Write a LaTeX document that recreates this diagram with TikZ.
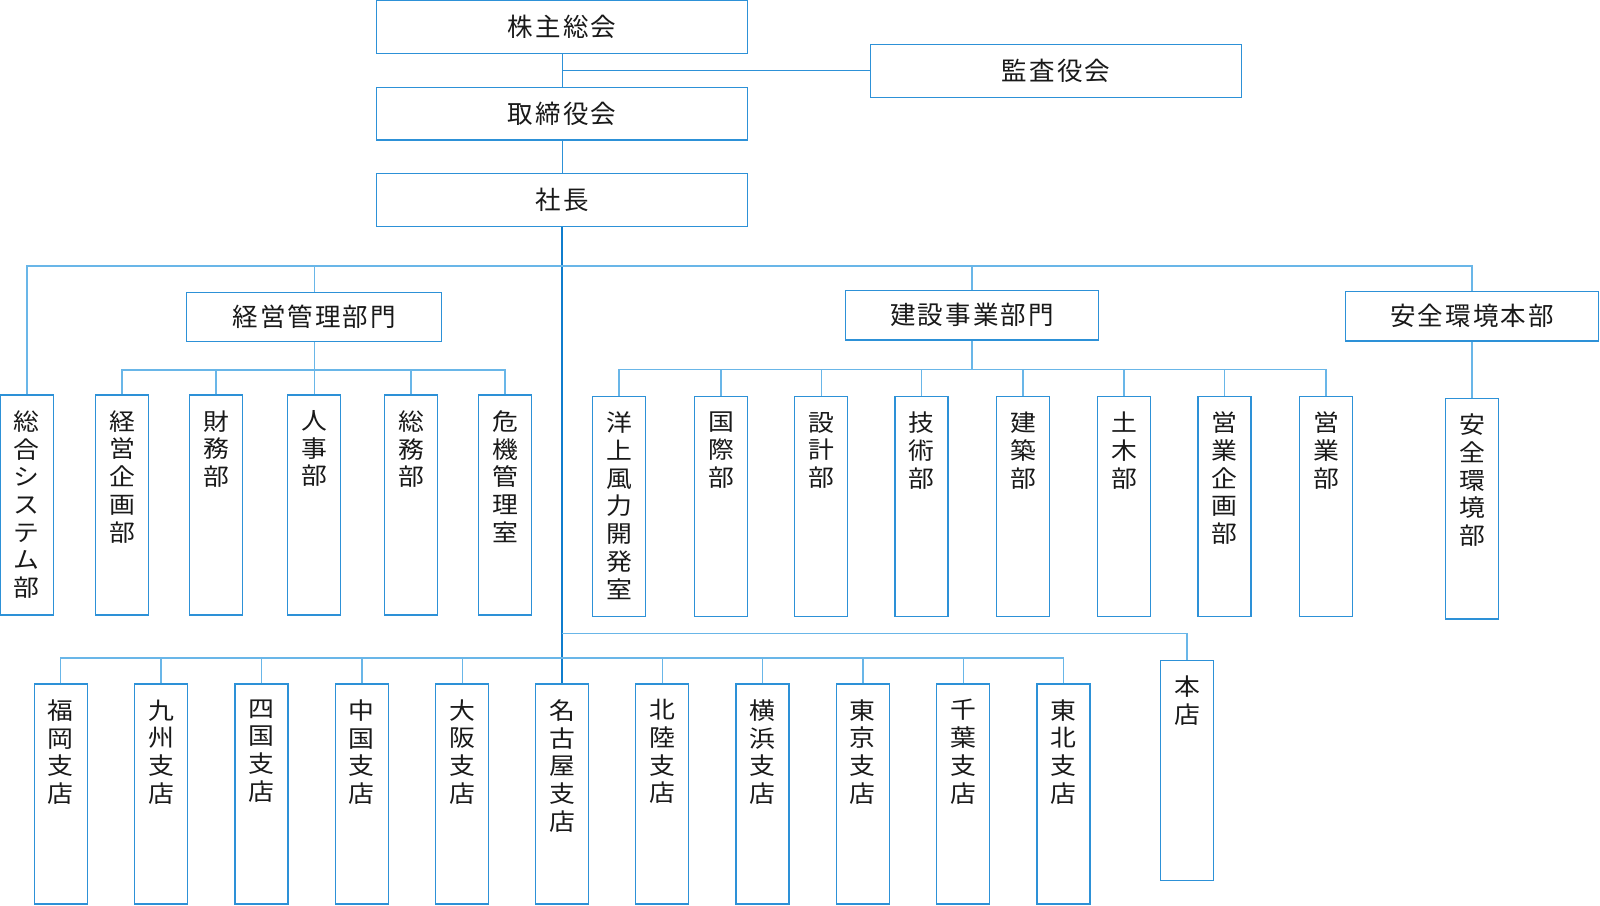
\documentclass[tikz,border=0pt]{standalone}
\usepackage{fontspec}
\setmainfont{Noto Sans CJK JP}
\newfontfamily\vfont[FakeStretch=1.1]{Noto Sans CJK JP}
\newfontfamily\hfont[LetterSpace=8]{Noto Sans CJK JP}
\definecolor{boxc}{RGB}{45,145,215}
\definecolor{linec}{RGB}{105,182,232}
\definecolor{trunkc}{RGB}{15,125,205}
\definecolor{txtc}{RGB}{25,25,25}
\tikzset{
  hbox/.style={draw=boxc, line width=1.3pt, inner sep=0pt, text=txtc,
    font=\hfont\fontsize{25.5}{30}\selectfont},
  sbox/.style={draw=boxc, line width=1.3pt, inner sep=0pt, minimum width=53pt},
  vtx/.style={anchor=north, inner sep=0pt, align=center, text=txtc,
    font=\vfont\fontsize{23.5}{27.7}\selectfont},
  ln/.style={draw=linec, line width=1.4pt},
  trunk/.style={draw=trunkc, line width=1.3pt}
}
\newcommand\vb[4]{%
  \node[sbox, minimum height=#3pt] (#1) at (#2) {};
  \node[vtx] (#1t) at ([yshift=-16pt]#1.north) {#4};}
\begin{document}
\begin{tikzpicture}[x=1pt, y=-1pt]
\useasboundingbox (0,0) rectangle (1600,905);
% top chain
\node[hbox, minimum width=371pt, minimum height=52.6pt] (kabu) at (562,27) {株主総会};
\node[hbox, minimum width=371pt, minimum height=53pt] (kansa) at (1056,70.8) {監査役会};
\node[hbox, minimum width=371pt, minimum height=52.7pt] (tori) at (562,113.7) {取締役会};
\node[hbox, minimum width=371pt, minimum height=53.4pt] (shacho) at (562,200) {社長};
% divisions
\node[hbox, minimum width=255pt, minimum height=49.4pt] (keiei) at (314.3,317) {経営管理部門};
\node[hbox, minimum width=253.4pt, minimum height=49.7pt] (kensetsu) at (972,315.2) {建設事業部門};
\node[hbox, minimum width=253.4pt, minimum height=49.7pt] (anzenhq) at (1472,316.2) {安全環境本部};
% management group
\vb{sogo}{26.8,505}{220}{総\\合\\シ\\ス\\テ\\ム\\部}
\vb{k1}{122,505}{220}{経\\営\\企\\画\\部}
\vb{k2}{216,505}{220}{財\\務\\部}
\vb{k3}{314.3,505}{220}{人\\事\\部}
\vb{k4}{411,505}{220}{総\\務\\部}
\vb{k5}{505,505}{220}{危\\機\\管\\理\\室}
% construction group
\vb{c1}{619,506.5}{220}{洋\\上\\風\\力\\開\\発\\室}
\vb{c2}{721,506.5}{220}{国\\際\\部}
\vb{c3}{821.3,506.5}{220}{設\\計\\部}
\vb{c4}{921.5,506.5}{220}{技\\術\\部}
\vb{c5}{1023,506.5}{220}{建\\築\\部}
\vb{c6}{1124,506.5}{220}{土\\木\\部}
\vb{c7}{1224.6,506.5}{220}{営\\業\\企\\画\\部}
\vb{c8}{1326,506.5}{220}{営\\業\\部}
\vb{anzen}{1472,508.7}{220.7}{安\\全\\環\\境\\部}
% branches
\vb{b1}{60.7,794}{220}{福\\岡\\支\\店}
\vb{b2}{161,794}{220}{九\\州\\支\\店}
\vb{b3}{261.4,794}{220}{四\\国\\支\\店}
\vb{b4}{361.8,794}{220}{中\\国\\支\\店}
\vb{b5}{462.2,794}{220}{大\\阪\\支\\店}
\vb{b6}{562,794}{220}{名\\古\\屋\\支\\店}
\vb{b7}{662.2,794}{220}{北\\陸\\支\\店}
\vb{b8}{762.5,794}{220}{横\\浜\\支\\店}
\vb{b9}{862.9,794}{220}{東\\京\\支\\店}
\vb{b10}{963.3,794}{220}{千\\葉\\支\\店}
\vb{b11}{1063.6,794}{220}{東\\北\\支\\店}
\vb{honten}{1187,770.7}{220}{本\\店}
% bus levels
\coordinate (topbus) at (0,266);
\coordinate (kbus) at (0,370);
\coordinate (cbus) at (0,369.3);
\coordinate (hbus) at (0,633.7);
\coordinate (bbus) at (0,658);
% top chain connectors
\draw[ln, line width=1pt, draw=boxc] (kabu.south) -- (tori.north);
\draw[ln, line width=1pt, draw=boxc] (kansa.west) -- (kansa.west -| kabu.south);
\draw[ln, line width=1pt, draw=boxc] (tori.south) -- (shacho.north);
\draw[trunk] (shacho.south) -- (b6.north);
% top bus
\draw[ln] (sogo.north) -- (sogo.north |- topbus) -- (anzenhq.north |- topbus) -- (anzenhq.north);
\draw[ln] (keiei.north) -- (keiei.north |- topbus);
\draw[ln] (kensetsu.north) -- (kensetsu.north |- topbus);
% management bus
\draw[ln] (keiei.south) -- (k3.north);
\draw[ln] (k1.north) -- (k1.north |- kbus) -- (k5.north |- kbus) -- (k5.north);
\foreach \n in {k2,k4} \draw[ln] (\n.north) -- (\n.north |- kbus);
% construction bus
\draw[ln] (kensetsu.south) -- (kensetsu.south |- cbus);
\draw[ln] (c1.north) -- (c1.north |- cbus) -- (c8.north |- cbus) -- (c8.north);
\foreach \n in {c2,c3,c4,c5,c6,c7} \draw[ln] (\n.north) -- (\n.north |- cbus);
% safety
\draw[ln] (anzenhq.south) -- (anzen.north);
% honten
\draw[ln] (b6.north |- hbus) -| (honten.north);
% branch bus
\draw[ln] (b1.north) -- (b1.north |- bbus) -- (b11.north |- bbus) -- (b11.north);
\foreach \n in {b2,b3,b4,b5,b7,b8,b9,b10} \draw[ln] (\n.north) -- (\n.north |- bbus);
\end{tikzpicture}
\end{document}
